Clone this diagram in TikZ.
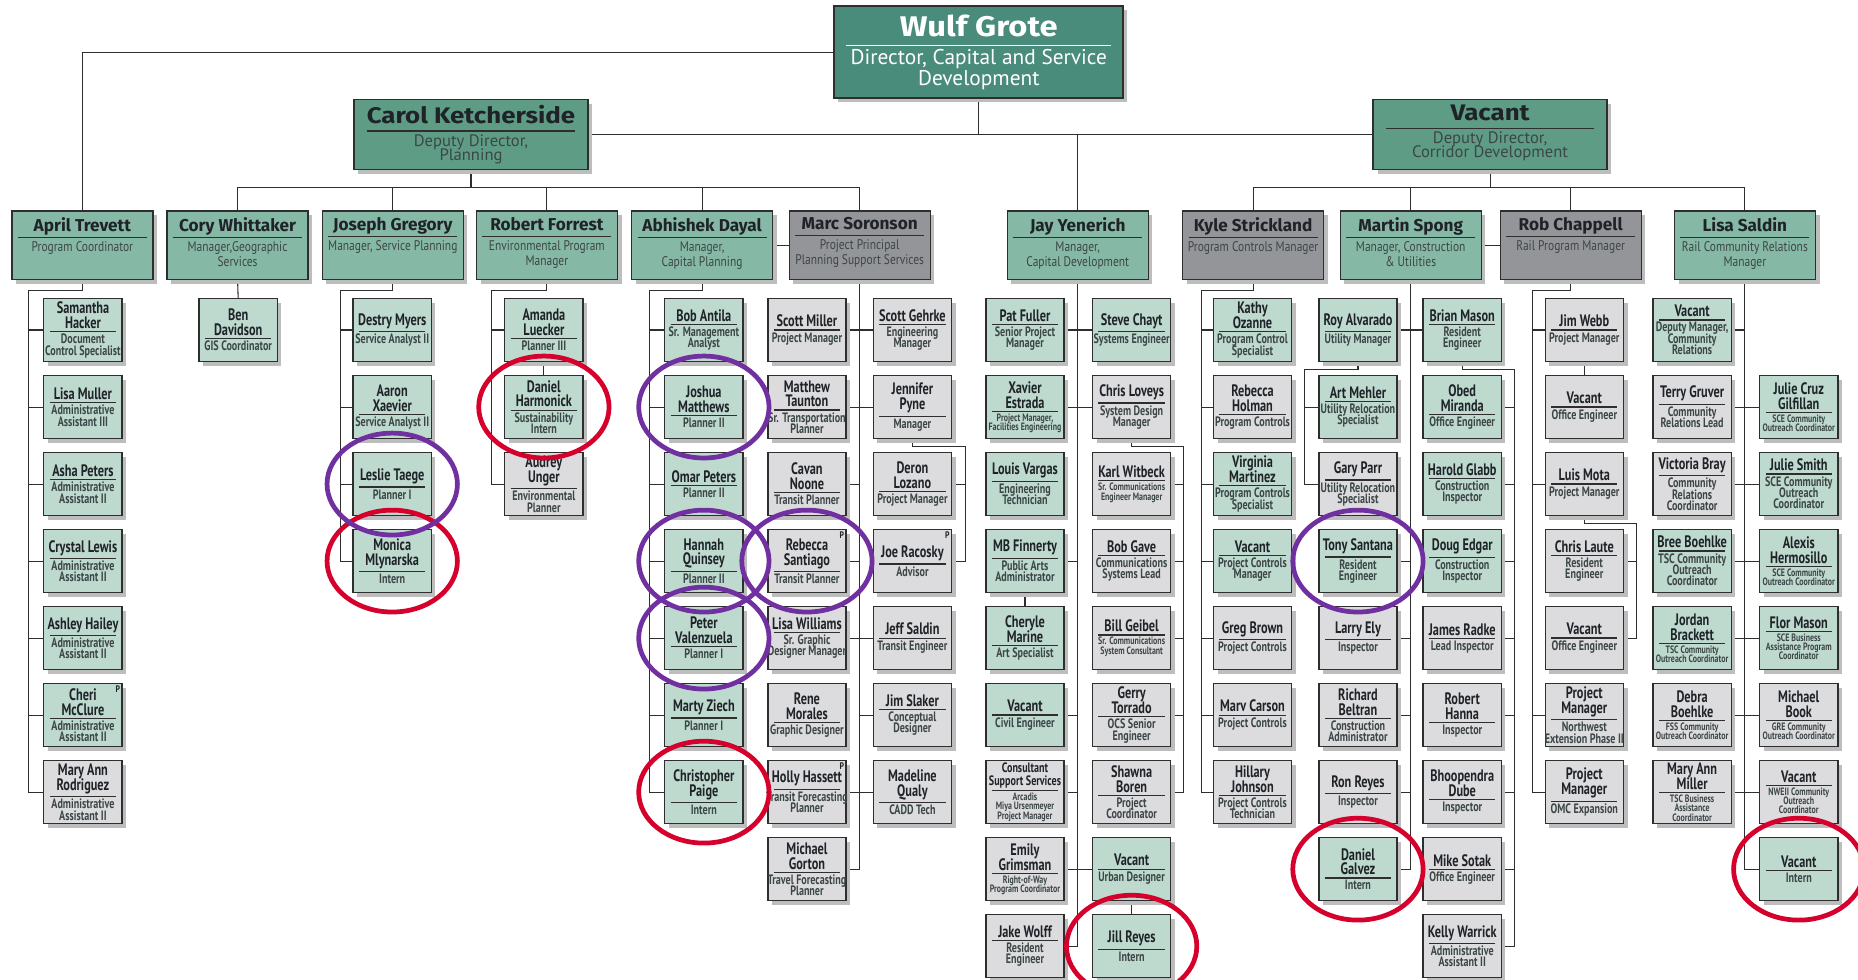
\documentclass[tikz,border=0pt]{standalone}
\usepackage{fontspec}
\setmainfont{PT Sans}
\newfontfamily\cnd[FakeStretch=0.82]{PT Sans}
\newfontfamily\ccnd[FakeStretch=0.74]{PT Sans}
\newfontfamily\hdf{Fira Sans}
\newfontfamily\bigf[FakeStretch=1.15]{Fira Sans}
\usetikzlibrary{shadows,backgrounds}
\definecolor{wulfc}{HTML}{4A8C7B}
\definecolor{depc}{HTML}{5E9C85}
\definecolor{mgrc}{HTML}{86B8A6}
\definecolor{mgrg}{HTML}{949598}
\definecolor{subc}{HTML}{BEDACF}
\definecolor{subg}{HTML}{DCDCDE}
\definecolor{linec}{HTML}{2E2E2E}
\definecolor{shad}{HTML}{BDBDBD}
\definecolor{redc}{HTML}{D5002C}
\definecolor{purc}{HTML}{7030A0}
\definecolor{nmc}{HTML}{1F2328}
\definecolor{tlc}{HTML}{3C4646}
\newcommand\nmf{\ccnd\bfseries\fontsize{14}{12.5}\selectfont\color{nmc}}
\newcommand\tlf{\ccnd\fontsize{11.5}{9.6}\selectfont\color{tlc}}
\newcommand\tnf{\ccnd\fontsize{9}{7.8}\selectfont\color{tlc}}
\newcommand\snf{\fontsize{11.5}{10.5}\selectfont}
\NewDocumentCommand\pp{O{\tlf} O{} m m}{\vbox{\hsize=62pt\centering\leftskip=-8pt plus 1fil\rightskip=-8pt plus 1fil\parfillskip=0pt\lineskiplimit=-20pt\hyphenpenalty=10000\exhyphenpenalty=10000
 \nmf#2 #3\par
 \nointerlineskip\kern2pt
 \hbox to\hsize{\hss{\color{linec}\vrule width56pt height1pt}\hss}%
 \nointerlineskip\kern1.5pt
 #1 #4\par}}
\newcommand\mg[2]{\vbox to 55pt{\hsize=113pt\centering\lineskiplimit=-20pt\parfillskip=0pt
 \kern4pt{\hdf\bfseries\fontsize{14.5}{14}\selectfont\color{nmc}#1\vrule width0pt depth3.5pt\par}%
 \nointerlineskip\kern1pt\hbox to\hsize{\hss{\color{linec}\vrule width109pt height1.1pt}\hss}%
 \nointerlineskip\kern3pt{\cnd\fontsize{11.8}{12.5}\selectfont\color{tlc}#2\par}\vfil}}
\newcommand\depbox[2]{\vbox to 56pt{\hsize=190pt\centering\lineskiplimit=-20pt\parfillskip=0pt
 \kern3pt{\bigf\bfseries\fontsize{19}{19}\selectfont\color{nmc}#1\vrule width0pt depth4pt\par}%
 \nointerlineskip\kern2pt\hbox to\hsize{\hss{\color{linec}\vrule width176pt height1.2pt}\hss}%
 \nointerlineskip\kern2.5pt{\fontsize{14}{12}\selectfont\color{tlc}#2\par}\vfil}}
\tikzset{
 box/.style={draw=linec, line width=1.1pt, inner sep=0pt, outer sep=0pt, anchor=north west,
   drop shadow={shadow xshift=3.5pt, shadow yshift=-3.5pt, fill=shad, opacity=1}},
 st/.style={box, fill=subc, minimum width=66pt, minimum height=53pt},
 sg/.style={box, fill=subg, minimum width=66pt, minimum height=53pt},
 mgt/.style={box, fill=mgrc, minimum width=119pt, minimum height=58pt},
 mgg/.style={box, fill=mgrg, minimum width=119pt, minimum height=58pt},
 conn/.style={draw=linec, line width=0.9pt},
 ring/.style={line width=4pt},
 pmark/.style={anchor=north east, inner sep=1.5pt, font=\cnd\bfseries\fontsize{8}{8}\selectfont, text=nmc},
}
\begin{document}
\begin{tikzpicture}[x=1pt,y=-1pt]
\useasboundingbox (0,0) rectangle (1568,827);
% top
\node[box, fill=wulfc, minimum width=244pt, minimum height=78pt, line width=1.6pt] (wulf) at (704,5)
 {\vbox to 75pt{\hsize=236pt\centering\lineskiplimit=-20pt\parfillskip=0pt\kern6pt{\bigf\bfseries\fontsize{24}{24}\selectfont\color{white}Wulf Grote\vrule width0pt depth4pt\par}\nointerlineskip\kern3pt\hbox to\hsize{\hss{\color{white}\vrule width224pt height1.3pt}\hss}\nointerlineskip\kern3pt{\fontsize{18}{17}\selectfont\color{white}Director, Capital and Service\\Development\par}\vfil}};
\node[box, fill=depc, minimum width=197pt, minimum height=59pt, line width=1.6pt] (carol) at (299,84) {\depbox{Carol Ketcherside}{Deputy Director,\\Planning}};
\node[box, fill=depc, minimum width=197pt, minimum height=59pt, line width=1.6pt] (vdep) at (1159,84) {\depbox{Vacant}{Deputy Director,\\Corridor Development}};
% managers
\node[mgt] (april) at (10,178) {\mg{April Trevett}{Program Coordinator}};
\node[mgt] (cory) at (141,178) {\mg{Cory Whittaker}{Manager,Geographic\\Services}};
\node[mgt] (joseph) at (272,178) {\mg{Joseph Gregory}{Manager, Service Planning}};
\node[mgt] (robert) at (402,178) {\mg{Robert Forrest}{Environmental Program\\Manager}};
\node[mgt] (abhishek) at (533,178) {\mg{Abhishek Dayal}{Manager,\\Capital Planning}};
\node[mgg] (marc) at (666,178) {\mg{Marc Soronson}{Project Principal\\Planning Support Services}};
\node[mgt] (jay) at (850,178) {\mg{Jay Yenerich}{Manager,\\Capital Development}};
\node[mgg] (kyle) at (998,178) {\mg{Kyle Strickland}{Program Controls Manager}};
\node[mgt] (martin) at (1131,178) {\mg{Martin Spong}{Manager, Construction\\\& Utilities}};
\node[mgg] (rob) at (1266,178) {\mg{Rob Chappell}{Rail Program Manager}};
\node[mgt] (lisa) at (1413,178) {\mg{Lisa Saldin}{Rail Community Relations\\Manager}};
% A
\node[st] (a0) at (37,252) {\pp{Samantha\\Hacker}{Document\\Control Specialist}};
\node[st] (a1) at (37,317) {\pp{Lisa Muller}{Administrative\\Assistant III}};
\node[st] (a2) at (37,382) {\pp{Asha Peters}{Administrative\\Assistant II}};
\node[st] (a3) at (37,447) {\pp{Crystal Lewis}{Administrative\\Assistant II}};
\node[st] (a4) at (37,512) {\pp{Ashley Hailey}{Administrative\\Assistant II}};
\node[st] (a5) at (37,577) {\pp{Cheri\\McClure}{Administrative\\Assistant II}};
\node[sg] (a6) at (37,642) {\pp{Mary Ann\\Rodriguez}{Administrative\\Assistant II}};
% B
\node[st] (b0) at (168,252) {\pp{Ben\\Davidson}{GIS Coordinator}};
% C
\node[st] (c0) at (298,252) {\pp{Destry Myers}{Service Analyst II}};
\node[st] (c1) at (298,317) {\pp{Aaron\\Xaevier}{Service Analyst II}};
\node[st] (c2) at (298,382) {\pp{Leslie Taege}{Planner I}};
\node[st] (c3) at (298,447) {\pp{Monica\\Mlynarska}{Intern}};
% D
\node[st] (d0) at (426,252) {\pp{Amanda\\Luecker}{Planner III}};
\node[st] (d1) at (426,317) {\pp{Daniel\\Harmonick}{Sustainability\\Intern}};
\node[sg] (d2) at (426,382) {\pp{Audrey\\Unger}{Environmental\\Planner}};
% E
\node[st] (e0) at (561,252) {\pp{Bob Antila}{Sr. Management\\Analyst}};
\node[st] (e1) at (561,317) {\pp{Joshua\\Matthews}{Planner II}};
\node[st] (e2) at (561,382) {\pp{Omar Peters}{Planner II}};
\node[st] (e3) at (561,447) {\pp{Hannah\\Quinsey}{Planner II}};
\node[st] (e4) at (561,512) {\pp{Peter\\Valenzuela}{Planner I}};
\node[st] (e5) at (561,577) {\pp{Marty Ziech}{Planner I}};
\node[st] (e6) at (561,642) {\pp{Christopher\\Paige}{Intern}};
% F
\node[sg] (f0) at (648,252) {\pp{Scott Miller}{Project Manager}};
\node[sg] (f1) at (648,317) {\pp{Matthew\\Taunton}{Sr. Transportation\\Planner}};
\node[sg] (f2) at (648,382) {\pp{Cavan\\Noone}{Transit Planner}};
\node[sg] (f3) at (648,447) {\pp{Rebecca\\Santiago}{Transit Planner}};
\node[sg] (f4) at (648,512) {\pp{Lisa Williams}{Sr. Graphic\\Designer Manager}};
\node[sg] (f5) at (648,577) {\pp{Rene\\Morales}{Graphic Designer}};
\node[sg] (f6) at (648,642) {\pp{Holly Hassett}{Transit Forecasting\\Planner}};
\node[sg] (f7) at (648,707) {\pp{Michael\\Gorton}{Travel Forecasting\\Planner}};
% G
\node[sg] (g0) at (737,252) {\pp{Scott Gehrke}{Engineering\\Manager}};
\node[sg] (g1) at (737,317) {\pp{Jennifer\\Pyne}{Manager}};
\node[sg] (g2) at (737,382) {\pp{Deron\\Lozano}{Project Manager}};
\node[sg] (g3) at (737,447) {\pp{Joe Racosky}{Advisor}};
\node[sg] (g4) at (737,512) {\pp{Jeff Saldin}{Transit Engineer}};
\node[sg] (g5) at (737,577) {\pp{Jim Slaker}{Conceptual\\Designer}};
\node[sg] (g6) at (737,642) {\pp{Madeline\\Qualy}{CADD Tech}};
% H
\node[st] (h0) at (832,252) {\pp{Pat Fuller}{Senior Project\\Manager}};
\node[st] (h1) at (832,317) {\pp[\tnf]{Xavier\\Estrada}{Project Manager,\\Facilities Engineering}};
\node[st] (h2) at (832,382) {\pp{Louis Vargas}{Engineering\\Technician}};
\node[st] (h3) at (832,447) {\pp{MB Finnerty}{Public Arts\\Administrator}};
\node[st] (h4) at (832,512) {\pp{Cheryle\\Marine}{Art Specialist}};
\node[st] (h5) at (832,577) {\pp{Vacant}{Civil Engineer}};
\node[sg] (h6) at (832,642) {\pp[\tnf][\snf]{Consultant\\Support Services}{Arcadis\\Miya Ursenmeyer\\Project Manager}};
\node[sg] (h7) at (832,707) {\pp[\tnf]{Emily\\Grimsman}{Right-of-Way\\Program Coordinator}};
\node[sg] (h8) at (832,772) {\pp{Jake Wolff}{Resident\\Engineer}};
% I
\node[st] (i0) at (922,252) {\pp{Steve Chayt}{Systems Engineer}};
\node[sg] (i1) at (922,317) {\pp{Chris Loveys}{System Design\\Manager}};
\node[sg] (i2) at (922,382) {\pp[\tnf]{Karl Witbeck}{Sr. Communications\\Engineer Manager}};
\node[sg] (i3) at (922,447) {\pp{Bob Gave}{Communications\\Systems Lead}};
\node[sg] (i4) at (922,512) {\pp[\tnf]{Bill Geibel}{Sr. Communications\\System Consultant}};
\node[sg] (i5) at (922,577) {\pp{Gerry\\Torrado}{OCS Senior\\Engineer}};
\node[sg] (i6) at (922,642) {\pp{Shawna\\Boren}{Project\\Coordinator}};
\node[st] (i7) at (922,707) {\pp{Vacant}{Urban Designer}};
\node[st] (i8) at (922,772) {\pp{Jill Reyes}{Intern}};
% J
\node[st] (j0) at (1024,252) {\pp{Kathy\\Ozanne}{Program Control\\Specialist}};
\node[sg] (j1) at (1024,317) {\pp{Rebecca\\Holman}{Program Controls}};
\node[st] (j2) at (1024,382) {\pp{Virginia\\Martinez}{Program Controls\\Specialist}};
\node[st] (j3) at (1024,447) {\pp{Vacant}{Project Controls\\Manager}};
\node[sg] (j4) at (1024,512) {\pp{Greg Brown}{Project Controls}};
\node[sg] (j5) at (1024,577) {\pp{Marv Carson}{Project Controls}};
\node[sg] (j6) at (1024,642) {\pp{Hillary\\Johnson}{Project Controls\\Technician}};
% K
\node[st] (k0) at (1113,252) {\pp{Roy Alvarado}{Utility Manager}};
\node[st] (k1) at (1113,317) {\pp{Art Mehler}{Utility Relocation\\Specialist}};
\node[sg] (k2) at (1113,382) {\pp{Gary Parr}{Utility Relocation\\Specialist}};
\node[st] (k3) at (1113,447) {\pp{Tony Santana}{Resident\\Engineer}};
\node[sg] (k4) at (1113,512) {\pp{Larry Ely}{Inspector}};
\node[sg] (k5) at (1113,577) {\pp{Richard\\Beltran}{Construction\\Administrator}};
\node[sg] (k6) at (1113,642) {\pp{Ron Reyes}{Inspector}};
\node[st] (k7) at (1113,707) {\pp{Daniel\\Galvez}{Intern}};
% L
\node[st] (l0) at (1201,252) {\pp{Brian Mason}{Resident\\Engineer}};
\node[st] (l1) at (1201,317) {\pp{Obed\\Miranda}{Office Engineer}};
\node[st] (l2) at (1201,382) {\pp{Harold Glabb}{Construction\\Inspector}};
\node[st] (l3) at (1201,447) {\pp{Doug Edgar}{Construction\\Inspector}};
\node[sg] (l4) at (1201,512) {\pp{James Radke}{Lead Inspector}};
\node[sg] (l5) at (1201,577) {\pp{Robert\\Hanna}{Inspector}};
\node[sg] (l6) at (1201,642) {\pp{Bhoopendra\\Dube}{Inspector}};
\node[sg] (l7) at (1201,707) {\pp{Mike Sotak}{Office Engineer}};
\node[sg] (l8) at (1201,772) {\pp{Kelly Warrick}{Administrative\\Assistant II}};
% M
\node[sg] (m0) at (1304,252) {\pp{Jim Webb}{Project Manager}};
\node[sg] (m1) at (1304,317) {\pp{Vacant}{Office Engineer}};
\node[sg] (m2) at (1304,382) {\pp{Luis Mota}{Project Manager}};
\node[sg] (m3) at (1304,447) {\pp{Chris Laute}{Resident\\Engineer}};
\node[sg] (m4) at (1304,512) {\pp{Vacant}{Office Engineer}};
\node[sg] (m5) at (1304,577) {\pp{Project\\Manager}{Northwest\\Extension Phase II}};
\node[sg] (m6) at (1304,642) {\pp{Project\\Manager}{OMC Expansion}};
% N
\node[st] (n0) at (1395,252) {\pp{Vacant}{Deputy Manager,\\Community\\Relations}};
\node[sg] (n1) at (1395,317) {\pp{Terry Gruver}{Community\\Relations Lead}};
\node[sg] (n2) at (1395,382) {\pp{Victoria Bray}{Community\\Relations\\Coordinator}};
\node[st] (n3) at (1395,447) {\pp{Bree Boehlke}{TSC Community\\Outreach\\Coordinator}};
\node[st] (n4) at (1395,512) {\pp[\tnf]{Jordan\\Brackett}{TSC Community\\Outreach Coordinator}};
\node[sg] (n5) at (1395,577) {\pp[\tnf]{Debra\\Boehlke}{FSS Community\\Outreach Coordinator}};
\node[sg] (n6) at (1395,642) {\pp[\tnf]{Mary Ann\\Miller}{TSC Business\\Assistance\\Coordinator}};
% O
\node[st] (o1) at (1485,317) {\pp[\tnf]{Julie Cruz\\Gilfillan}{SCE Community\\Outreach Coordinator}};
\node[st] (o2) at (1485,382) {\pp{Julie Smith}{SCE Community\\Outreach\\Coordinator}};
\node[st] (o3) at (1485,447) {\pp[\tnf]{Alexis\\Hermosillo}{SCE Community\\Outreach Coordinator}};
\node[st] (o4) at (1485,512) {\pp[\tnf]{Flor Mason}{SCE Business\\Assistance Program\\Coordinator}};
\node[sg] (o5) at (1485,577) {\pp[\tnf]{Michael\\Book}{GRE Community\\Outreach Coordinator}};
\node[sg] (o6) at (1485,642) {\pp[\tnf]{Vacant}{NWEII Community\\Outreach\\Coordinator}};
\node[st] (o7) at (1485,707) {\pp{Vacant}{Intern}};
% P marks
\node[pmark] (a5p) at (a5.north east) {P};
\node[pmark] (f3p) at (f3.north east) {P};
\node[pmark] (g3p) at (g3.north east) {P};
\node[pmark] (f6p) at (f6.north east) {P};
% connectors
\begin{scope}[on background layer]
\fill[white] (0,0) rectangle (1568,827);
\draw[conn] (wulf.west) -| (april.north);
\draw[conn] (wulf.south) -- (wulf.south |- carol.east);
\draw[conn] (carol.east) -- (vdep.west);
\draw[conn] (jay.north |- carol.east) -- (jay.north);
\coordinate (cbus) at (0,158);
\draw[conn] (carol.south) -- (carol.south |- cbus);
\draw[conn] (cory.north |- cbus) -- (marc.north |- cbus);
\foreach \mm in {cory,joseph,robert,abhishek,marc} {\draw[conn] (\mm.north |- cbus) -- (\mm.north);}
\draw[conn] (vdep.south) -- (vdep.south |- cbus);
\draw[conn] (kyle.north |- cbus) -- (lisa.north |- cbus);
\foreach \mm in {kyle,martin,rob,lisa} {\draw[conn] (\mm.north |- cbus) -- (\mm.north);}
\draw[conn] (abhishek.east) -- (marc.west);
\draw[conn] (martin.east) -- (rob.west);
% April
\coordinate (aT) at (24,245);
\draw[conn] (april.south) |- (aT) |- (a6.west);
\foreach \nd in {a0,a1,a2,a3,a4,a5} {\draw[conn] (aT |- \nd.west) -- (\nd.west);}
% Cory
\draw[conn] (cory.south) -- (b0.north);
% Joseph
\coordinate (cT) at (287,245);
\draw[conn] (joseph.south) |- (cT) |- (c3.west);
\foreach \nd in {c0,c1,c2} {\draw[conn] (cT |- \nd.west) -- (\nd.west);}
% Robert
\coordinate (dT) at (415,245);
\draw[conn] (robert.south) |- (dT) |- (d2.west);
\draw[conn] (dT |- d0.west) -- (d0.west);
\draw[conn] (d0.south) -- (d1.north);
% Abhishek
\coordinate (eT) at (548,245);
\draw[conn] (abhishek.south) |- (eT) |- (e6.west);
\foreach \nd in {e0,e1,e2,e3,e4,e5} {\draw[conn] (eT |- \nd.west) -- (\nd.west);}
% Marc
\draw[conn] (marc.south) |- (f7.east);
\draw[conn] (f0.east) -- (g0.west);
\draw[conn] (f1.east) -- (g1.west);
\draw[conn] (f2.east) -- (marc.south |- f2.east);
\draw[conn] (f3.east) -- (marc.south |- f3.east);
\draw[conn] (f4.east) -- (g4.west);
\draw[conn] (marc.south |- g5.west) -- (g5.west);
\draw[conn] (f6.east) -- (g6.west);
\coordinate (gB) at (815,377);
\draw[conn] (g1.south) |- (gB) |- (g3.east);
\draw[conn] (g2.east) -- (gB |- g2.east);
% Jay
\draw[conn] (jay.south) |- (h8.east);
\draw[conn] (h0.east) -- (i0.west);
\draw[conn] (h1.east) -- (i1.west);
\foreach \nd in {h3,h5,h6} {\draw[conn] (\nd.east) -- (jay.south |- \nd.east);}
\draw[conn] (h7.east) -- (i7.west);
\draw[conn] (h3.south) -- (h4.north);
\draw[conn] (i7.south) -- (i8.north);
\coordinate (iB) at (999,377);
\draw[conn] (i1.south) |- (iB) |- (i6.east);
\foreach \nd in {i2,i3,i4,i5} {\draw[conn] (\nd.east) -- (iB |- \nd.east);}
% Kyle
\coordinate (jT) at (1014,245);
\draw[conn] (kyle.south) |- (jT) |- (j6.west);
\foreach \nd in {j0,j1,j2,j3,j4,j5} {\draw[conn] (jT |- \nd.west) -- (\nd.west);}
% Martin
\draw[conn] (martin.south) |- (k7.east);
\draw[conn] (k0.east) -- (l0.west);
\foreach \nd in {k3,k4,k5,k6} {\draw[conn] (\nd.east) -- (martin.south |- \nd.east);}
\coordinate (kB) at (1101,312);
\draw[conn] (k0.south) |- (kB) |- (k2.west);
\draw[conn] (kB |- k1.west) -- (k1.west);
\coordinate (lB) at (1278,312);
\draw[conn] (l0.south) |- (lB) |- (l8.east);
\foreach \nd in {l1,l2,l3,l4,l5,l6,l7} {\draw[conn] (\nd.east) -- (lB |- \nd.east);}
% Rob
\coordinate (mT) at (1293,245);
\draw[conn] (rob.south) |- (mT) |- (m6.west);
\foreach \nd in {m0,m2,m5} {\draw[conn] (mT |- \nd.west) -- (\nd.west);}
\draw[conn] (m0.south) -- (m1.north);
\coordinate (mB) at (1381,442);
\draw[conn] (m2.south) |- (mB) |- (m4.east);
\draw[conn] (m3.east) -- (mB |- m3.east);
% Lisa
\draw[conn] (lisa.south) |- (o7.west);
\draw[conn] (n0.east) -- (lisa.south |- n0.east);
\draw[conn] (n1.east) -- (o1.west);
\draw[conn] (n2.east) -- (o2.west);
\draw[conn] (n3.east) -- (o3.west);
\draw[conn] (n4.east) -- (o4.west);
\draw[conn] (n5.east) -- (o5.west);
\draw[conn] (n6.east) -- (o6.west);
\end{scope}
% rings
\foreach \nd in {d1,c3,e6,i8,k7,o7} {\draw[ring, draw=redc] (\nd.center) ellipse [x radius=55pt, y radius=43pt];}
\foreach \nd in {c2,e1,e3,f3,e4,k3} {\draw[ring, draw=purc] (\nd.center) ellipse [x radius=55pt, y radius=43pt];}
\end{tikzpicture}
\end{document}
